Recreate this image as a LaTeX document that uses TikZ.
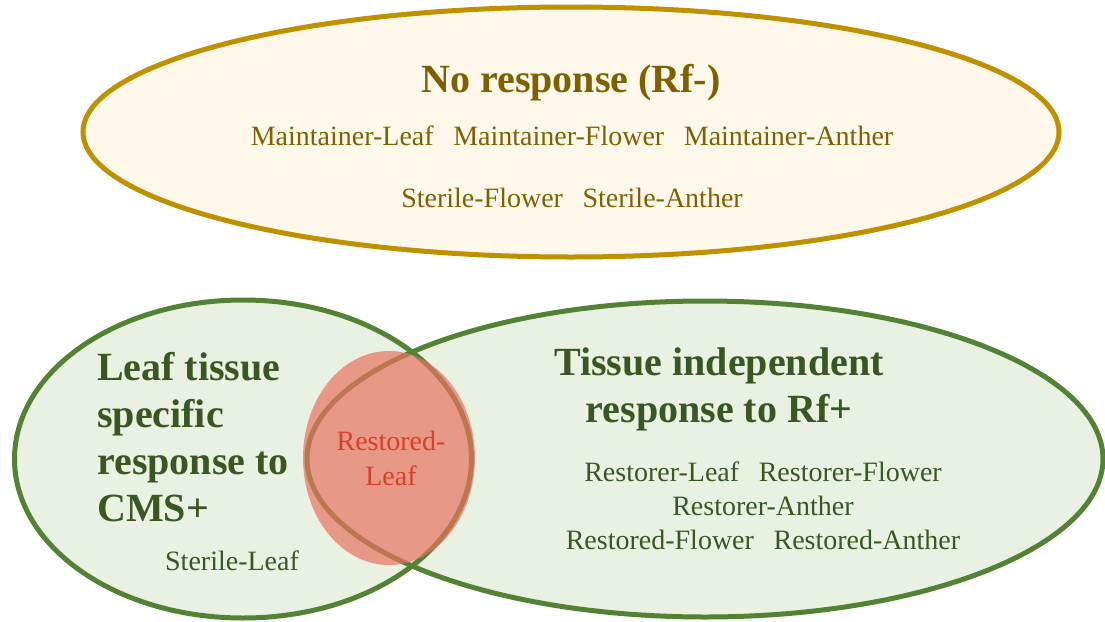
\documentclass[tikz,border=0pt]{standalone}
\usepackage{fontspec}
\setmainfont{Liberation Serif}
\usepackage{tikz}
\usetikzlibrary{shapes.geometric,positioning}

\definecolor{goldline}{RGB}{191,144,0}
\definecolor{goldfill}{RGB}{253,248,234}
\definecolor{goldtext}{RGB}{127,96,0}
\definecolor{greenline}{RGB}{84,130,53}
\definecolor{greenfill}{RGB}{233,241,226}
\definecolor{greentext}{RGB}{56,87,35}
\definecolor{salmon}{RGB}{232,115,95}
\definecolor{redtext}{RGB}{214,66,38}

\tikzset{
  venn/.style={ellipse, line width=5pt, inner sep=0pt},
  headtext/.style={font=\fontsize{40}{47}\selectfont\bfseries, inner sep=0pt},
  itemtext/.style={font=\fontsize{28}{34}\selectfont, inner sep=0pt},
}

\begin{document}
\begin{tikzpicture}[x=1pt, y=-1pt]
  \useasboundingbox (0,0) rectangle (1105,621);

  % top set
  \node[venn, draw=goldline, fill=goldfill, minimum width=976pt, minimum height=250pt] (norf) at (571,132) {};
  \node[headtext, text=goldtext, anchor=base] (norftitle) at (571,92) {No response (Rf-)};
  \node[itemtext, text=goldtext, anchor=base] (norfa) at (572,145)
    {Maintainer-Leaf\hspace{0.7em}Maintainer-Flower\hspace{0.7em}Maintainer-Anther};
  \node[itemtext, text=goldtext, anchor=base] (norfb) at (572,207)
    {Sterile-Flower\hspace{0.7em}Sterile-Anther};

  % lower sets: fills first, outlines after
  \node[venn, fill=greenfill, minimum width=457pt, minimum height=318pt] (cms) at (243,459) {};
  \node[venn, fill=greenfill, minimum width=796pt, minimum height=316pt] (rfp) at (705,459) {};
  \node[venn, draw=greenline, minimum width=457pt, minimum height=318pt] at (cms) {};
  \node[venn, draw=greenline, minimum width=796pt, minimum height=316pt] at (rfp) {};

  % overlap
  \node[ellipse, fill=salmon, fill opacity=0.7, inner sep=0pt, minimum width=172pt, minimum height=214pt] (restleaf) at (389,458) {};
  \node[itemtext, text=redtext, align=center, anchor=north, font=\fontsize{28}{35}\selectfont] (restleaftext) at (391,431) {Restored-\\Leaf};

  % left set texts
  \node[headtext, text=greentext, align=left, anchor=north west] (cmstitle) at (97,352)
    {Leaf tissue\\specific\\response to\\CMS+};
  \node[itemtext, text=greentext, anchor=base] (cmsa) at (232,570) {Sterile-Leaf};

  % right set texts
  \node[headtext, text=greentext, align=center, anchor=north] (rfptitle) at (719,348)
    {Tissue independent\\response to Rf+};
  \node[itemtext, text=greentext, align=center, anchor=north] (rfpa) at (763,462)
    {Restorer-Leaf\hspace{0.7em}Restorer-Flower\\Restorer-Anther\\Restored-Flower\hspace{0.7em}Restored-Anther};
\end{tikzpicture}
\end{document}
